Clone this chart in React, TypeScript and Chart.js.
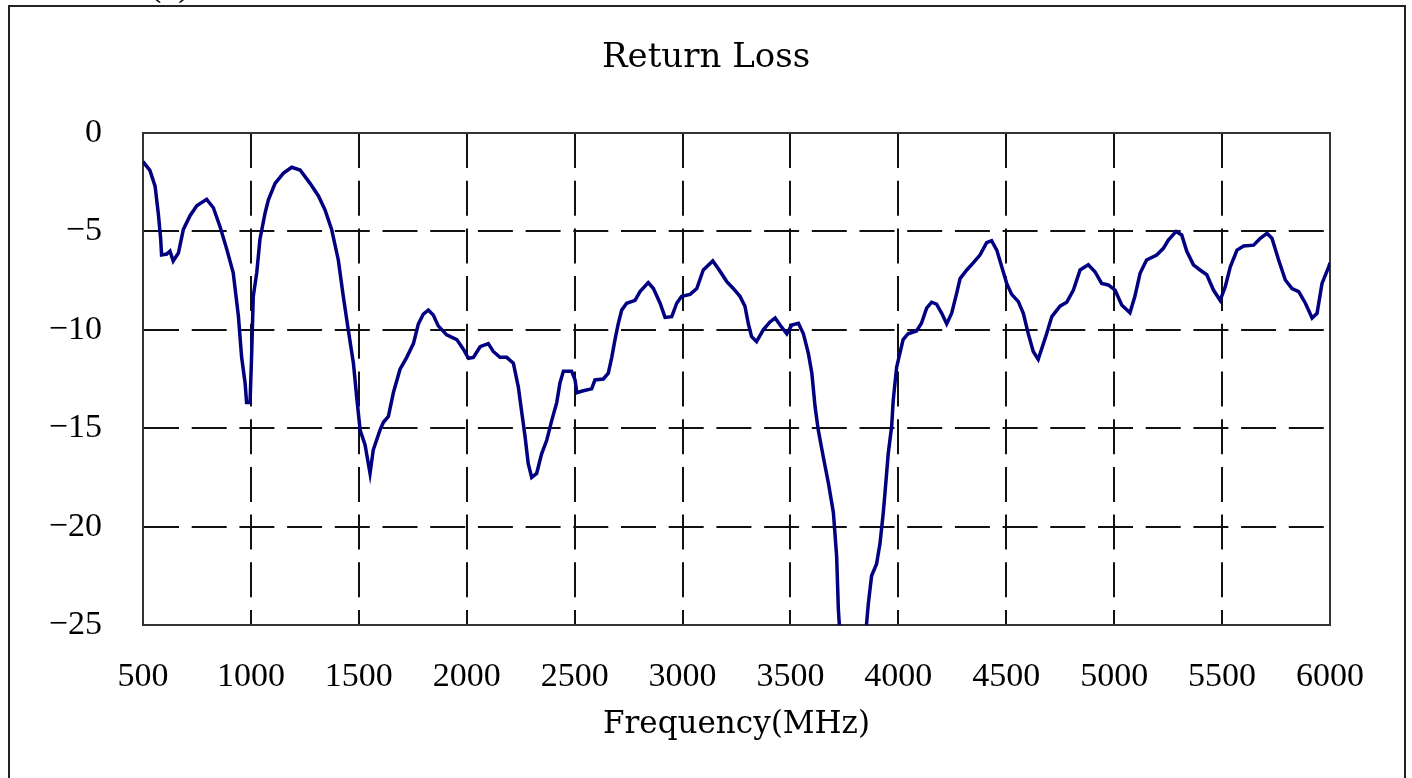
import React, { useEffect, useRef } from 'react';
import { Chart, registerables } from 'chart.js';

Chart.register(...registerables);

const chartTitle = 'Return Loss';
const xAxisTitle = 'Frequency(MHz)';
const captionText = '(b)';

const xTickValues = [500, 1000, 1500, 2000, 2500, 3000, 3500, 4000, 4500, 5000, 5500, 6000];
const yTickValues = [0, -5, -10, -15, -20, -25];
const yTickLabels = ['0', '\u22125', '\u221210', '\u221215', '\u221220', '\u221225'];

const freqMHz = [
  500, 532, 556, 571, 582, 586, 610, 625, 640, 664, 687, 718, 749, 795, 826, 857, 888, 918, 942, 957,
  973, 980, 996, 1003, 1011, 1027, 1042, 1065, 1081, 1112, 1150, 1189, 1228, 1274, 1313, 1343, 1374, 1405, 1428, 1451,
  1475, 1490, 1506, 1529, 1552, 1567, 1598, 1614, 1637, 1660, 1691, 1722, 1753, 1776, 1799, 1822, 1845, 1868, 1907, 1954,
  1985, 2008, 2031, 2062, 2100, 2123, 2154, 2185, 2216, 2239, 2255, 2270, 2285, 2301, 2324, 2347, 2371, 2394, 2417, 2432,
  2448, 2486, 2502, 2510, 2540, 2579, 2594, 2633, 2656, 2672, 2687, 2702, 2718, 2741, 2780, 2803, 2841, 2865, 2896, 2919,
  2950, 2973, 2996, 3035, 3066, 3096, 3140, 3166, 3205, 3235, 3266, 3289, 3305, 3320, 3343, 3374, 3405, 3429, 3452, 3483,
  3506, 3537, 3560, 3583, 3599, 3614, 3629, 3652, 3676, 3699, 3714, 3722, 3735, 3790, 3843, 3853, 3861, 3876, 3899, 3915,
  3930, 3938, 3953, 3969, 3976, 3992, 4007, 4022, 4045, 4084, 4107, 4131, 4154, 4177, 4201, 4224, 4247, 4270, 4286, 4317,
  4347, 4378, 4409, 4432, 4456, 4479, 4502, 4525, 4556, 4579, 4602, 4625, 4648, 4687, 4711, 4749, 4780, 4811, 4842, 4880,
  4911, 4942, 4973, 5004, 5035, 5073, 5096, 5120, 5150, 5197, 5228, 5251, 5287, 5313, 5336, 5367, 5398, 5429, 5460, 5491,
  5515, 5538, 5569, 5600, 5646, 5677, 5708, 5731, 5762, 5793, 5824, 5855, 5886, 5917, 5940, 5963, 5994, 6000,
];

const returnLossDb = [
  -1.45, -1.9, -2.7, -4.1, -5.4, -6.2, -6.15, -6.0, -6.5, -6.1, -4.9, -4.2, -3.7, -3.37, -3.8, -4.76, -5.9, -7.1, -9.3, -11.4,
  -12.7, -13.7, -13.7, -11.4, -8.3, -7.1, -5.4, -4.1, -3.4, -2.56, -2.05, -1.74, -1.88, -2.56, -3.2, -3.9, -4.9, -6.45, -8.3, -10.0,
  -11.7, -13.4, -15.1, -15.85, -17.3, -16.1, -15.1, -14.7, -14.4, -13.2, -12.0, -11.4, -10.7, -9.7, -9.2, -9.0, -9.25, -9.8, -10.26, -10.5,
  -11.0, -11.45, -11.4, -10.86, -10.7, -11.1, -11.4, -11.4, -11.7, -12.9, -14.2, -15.4, -16.8, -17.5, -17.3, -16.3, -15.6, -14.6, -13.7, -12.7,
  -12.1, -12.1, -12.55, -13.2, -13.1, -13.0, -12.55, -12.5, -12.2, -11.4, -10.5, -9.7, -9.0, -8.65, -8.5, -8.06, -7.6, -7.9, -8.65, -9.37,
  -9.33, -8.65, -8.3, -8.2, -7.9, -6.96, -6.5, -6.9, -7.55, -7.9, -8.3, -8.8, -9.7, -10.35, -10.6, -10.0, -9.6, -9.4, -9.76, -10.2,
  -9.76, -9.67, -10.2, -11.2, -12.2, -13.9, -15.1, -16.45, -17.8, -19.3, -21.5, -24.2, -26.5, -31.0, -26.5, -24.9, -23.9, -22.5, -21.9, -20.85,
  -19.3, -18.3, -16.3, -14.9, -13.6, -11.9, -11.2, -10.5, -10.2, -10.06, -9.67, -8.9, -8.6, -8.7, -9.16, -9.7, -9.16, -8.15, -7.4, -6.96,
  -6.6, -6.2, -5.57, -5.47, -5.95, -6.8, -7.64, -8.2, -8.57, -9.16, -10.2, -11.1, -11.5, -10.2, -9.33, -8.8, -8.6, -7.98, -6.96, -6.7,
  -7.05, -7.64, -7.72, -7.98, -8.74, -9.13, -8.3, -7.13, -6.45, -6.2, -5.86, -5.44, -5.0, -5.18, -6.0, -6.7, -6.96, -7.2, -7.98, -8.5,
  -7.8, -6.8, -5.95, -5.74, -5.7, -5.35, -5.1, -5.35, -6.45, -7.47, -7.9, -8.06, -8.65, -9.4, -9.16, -7.64, -6.8, -6.6,
];

const frameBox = {
  id: 'frameBox',
  beforeDatasetsDraw(chart: any) {
    const { ctx, chartArea } = chart;
    const { left, top, right, bottom } = chartArea;
    ctx.save();
    ctx.strokeStyle = '#333333';
    ctx.lineWidth = 2;
    ctx.setLineDash([]);
    ctx.strokeRect(left, top, right - left, bottom - top);
    ctx.restore();
  },
};

export default function App() {
  const canvasRef = useRef<HTMLCanvasElement | null>(null);

  useEffect(() => {
    if (!canvasRef.current) return;
    const points = freqMHz.map((f, i) => ({ x: f, y: returnLossDb[i] }));
    const gridDash = [35, 12.7];
    const chart = new Chart(canvasRef.current, {
      type: 'line',
      data: {
        datasets: [
          {
            data: points,
            borderColor: '#000080',
            borderWidth: 3.5,
            pointRadius: 0,
            tension: 0,
            fill: false,
            yAxisID: 'y',
          },
        ],
      },
      plugins: [frameBox],
      options: {
        responsive: false,
        animation: false,
        devicePixelRatio: 1,
        layout: { padding: { left: 0, right: 0, top: 0, bottom: 0 } },
        plugins: {
          legend: { display: false },
          tooltip: { enabled: false },
          title: {
            display: true,
            text: chartTitle,
            color: '#000000',
            font: { family: 'DejaVu Serif', size: 34, weight: 'normal' },
            padding: { top: 37.5, bottom: 54.7 },
          },
        },
        scales: {
          x: {
            type: 'linear',
            min: 500,
            max: 6000,
            afterBuildTicks: (s: any) => {
              s.ticks = xTickValues.map((v) => ({ value: v }));
            },
            afterFit: (s: any) => {
              s.height = 153;
            },
            ticks: {
              color: '#000000',
              font: { family: 'Liberation Serif', size: 34 },
              padding: 32,
              maxRotation: 0,
              autoSkip: false,
              callback: (v: any) => String(v),
            },
            grid: { color: '#111111', lineWidth: 2, drawTicks: false },
            border: { display: true, color: '#333333', width: 2, dash: gridDash },
            title: {
              display: true,
              text: xAxisTitle,
              color: '#000000',
              font: { family: 'DejaVu Serif', size: 31, weight: 'normal' },
              padding: { top: 0, bottom: 34 },
            },
          },
          y: {
            type: 'linear',
            position: 'left',
            min: -25,
            max: 0,
            afterBuildTicks: (s: any) => {
              s.ticks = yTickValues.map((v) => ({ value: v }));
            },
            afterFit: (s: any) => {
              s.width = 143;
            },
            ticks: {
              color: '#000000',
              font: { family: 'Liberation Serif', size: 34 },
              padding: 41,
              callback: (v: any) => {
                const i = yTickValues.indexOf(Number(v));
                return i >= 0 ? yTickLabels[i] : '';
              },
            },
            grid: { color: '#111111', lineWidth: 2, drawTicks: false },
            border: { display: true, color: '#333333', width: 2, dash: gridDash },
          },
          yRightSpace: {
            type: 'linear',
            position: 'right',
            display: true,
            min: -25,
            max: 0,
            afterFit: (s: any) => {
              s.width = 82;
            },
            ticks: { display: false },
            grid: { display: false, drawOnChartArea: false, drawTicks: false },
            border: { display: false },
          },
        },
      },
    } as any);
    return () => chart.destroy();
  }, []);

  return (
    <>
      <canvas
        ref={canvasRef}
        width={1412}
        height={778}
        style={{ position: 'absolute', left: 0, top: 0, display: 'block' }}
      />
      <div
        style={{
          position: 'absolute',
          left: 150,
          top: -31,
          fontFamily: 'Liberation Serif',
          fontSize: 34,
          lineHeight: '32px',
          color: '#000',
          whiteSpace: 'nowrap',
        }}
      >
        {captionText}
      </div>
      <div
        style={{
          position: 'absolute',
          left: 8,
          top: 5,
          width: 1398,
          height: 773,
          boxSizing: 'border-box',
          borderTop: '2px solid #222',
          borderLeft: '2px solid #222',
          borderRight: '2px solid #222',
          pointerEvents: 'none',
        }}
      />
    </>
  );
}
